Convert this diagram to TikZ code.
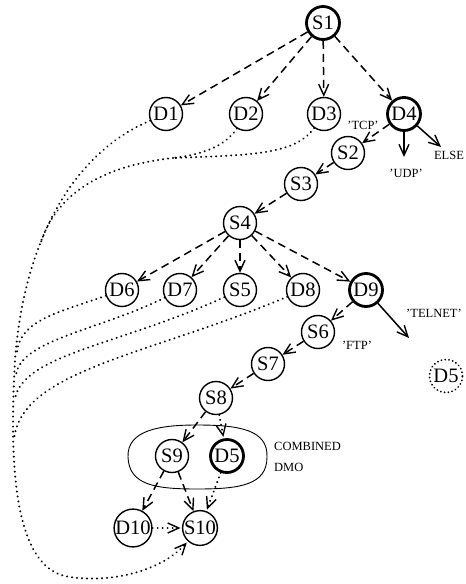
\documentclass[tikz,border=0pt]{standalone}
\usepackage{fontspec}
\setmainfont{Liberation Serif}
\usetikzlibrary{arrows.meta}
\tikzset{
  st/.style={circle,draw,line width=1.4pt,minimum size=33pt,inner sep=0pt,font=\fontsize{20.5}{20}\selectfont},
  stthick/.style={st,line width=2.8pt},
  stdot/.style={st,dash pattern=on 0.01pt off 3.8pt,line cap=round,line width=2pt},
  lbl/.style={font=\fontsize{12.5}{13}\selectfont,inner sep=0pt},
  tip/.style={-{Straight Barb[length=11pt,width=10pt,line width=1.4pt]}},
  dsh/.style={tip,line width=1.5pt,dash pattern=on 8pt off 5pt},
  dtt/.style={line width=2.2pt,dash pattern=on 0.01pt off 5pt,line cap=round},
  dtta/.style={dtt,-{Straight Barb[length=11pt,width=10pt,line width=1.4pt,sep]}},
  sol/.style={tip,line width=1.5pt}
}
\begin{document}
\begin{tikzpicture}[x=1pt,y=-1pt]
\useasboundingbox (0,0) rectangle (466,584);
% combined DMO outline
\draw[line width=0.9pt] (128,457) .. controls (127,430) and (160,425) .. (197,425)
  .. controls (240,425) and (268,430) .. (267,457)
  .. controls (267,485) and (240,489) .. (197,489)
  .. controls (155,489) and (129,485) .. cycle;
% nodes
\node[stthick] (S1) at (323,23) {S1};
\node[st] (D1) at (166,114) {D1};
\node[st] (D2) at (246,114) {D2};
\node[st] (D3) at (324,114) {D3};
\node[stthick] (D4) at (404,114) {D4};
\node[st] (S2) at (348,153) {S2};
\node[st] (S3) at (301,184) {S3};
\node[st] (S4) at (240,223) {S4};
\node[st] (D6) at (122,290) {D6};
\node[st] (D7) at (180,290) {D7};
\node[st] (S5) at (240,290) {S5};
\node[st] (D8) at (303,290) {D8};
\node[stthick] (D9) at (366,290) {D9};
\node[st] (S6) at (318,332) {S6};
\node[st] (S7) at (268,364) {S7};
\node[st] (S8) at (216,398) {S8};
\node[st] (S9) at (172,456) {S9};
\node[stthick] (D5) at (227,456) {D5};
\node[st] (D10) at (133,528) {D10};
\node[st] (S10) at (200,528) {S10};
\node[stdot] (D5b) at (446,376) {D5};
% labels
\node[lbl] (tcp) at (363,125) {'TCP'};
\node[lbl] (udp) at (406,173) {'UDP'};
\node[lbl] (else) at (449,155) {ELSE};
\node[lbl] (telnet) at (434,313) {'TELNET'};
\node[lbl] (ftp) at (357,345) {'FTP'};
\node[lbl,anchor=west] (comb) at (274,446) {COMBINED};
\node[lbl,anchor=west] (dmo) at (274,467) {DMO};
\coordinate (udpend) at (404,157);
\coordinate (elseend) at (441,147);
\coordinate (telend) at (409,338);
% dashed tree edges
\draw[dsh] (S1) -- (D1);
\draw[dsh] (S1) -- (D2);
\draw[dsh] (S1) -- (D3);
\draw[dsh] (S1) -- (D4);
\draw[dsh] (D4) -- (S2);
\draw[sol] (D4) -- (udpend);
\draw[sol] (D4) -- (elseend);
\draw[dsh] (S2) -- (S3);
\draw[dsh] (S3) -- (S4);
\draw[dsh] (S4) -- (D6);
\draw[dsh] (S4) -- (D7);
\draw[dsh] (S4) -- (S5);
\draw[dsh] (S4) -- (D8);
\draw[dsh] (S4) -- (D9);
\draw[dsh] (D9) -- (S6);
\draw[sol] (D9) -- (telend);
\draw[dsh] (S6) -- (S7);
\draw[dsh] (S7) -- (S8);
\draw[dsh] (S8) -- (S9);
\draw[dtta] (S8) -- (D5);
\draw[dsh] (S9) -- (D10);
\draw[dsh] (S9) -- (S10);
\draw[dtta] (D5) -- (S10);
\draw[dtta] (D10) -- (S10);
% dotted long curves
\coordinate (m1) at (173,158);
\coordinate (m2) at (40,245);
\coordinate (j6) at (17,352);
\coordinate (j7) at (16,375);
\coordinate (j5) at (15,400);
\coordinate (j8) at (14,440);
\draw[dtta] (D1) .. controls (80,150) and (25,230) .. (15,360)
  .. controls (10,450) and (10,570) .. (70,577)
  .. controls (110,583) and (160,572) .. (S10);
\draw[dtt] (D2) .. controls (225,147) and (200,155) .. (m1);
\draw[dtt] (D3) .. controls (295,155) and (250,155) .. (m1);
\draw[dtt] (m1) .. controls (100,166) and (55,195) .. (m2);
\draw[dtt] (D6) .. controls (60,312) and (20,320) .. (j6);
\draw[dtt] (D7) .. controls (100,330) and (20,340) .. (j7);
\draw[dtt] (S5) .. controls (120,345) and (20,355) .. (j5);
\draw[dtt] (D8) .. controls (150,355) and (20,370) .. (j8);
\end{tikzpicture}
\end{document}
